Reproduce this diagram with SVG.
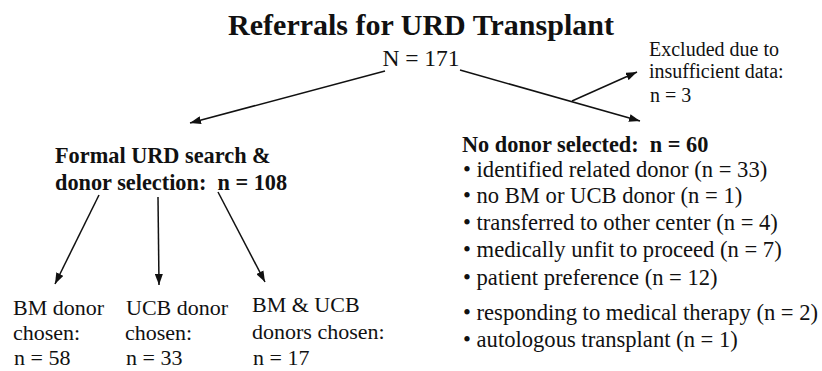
<svg xmlns="http://www.w3.org/2000/svg" width="822" height="371" viewBox="0 0 822 371">
<defs>
<style>
text{font-family:"Liberation Serif","Times New Roman",serif;fill:#111;white-space:pre}
.t{font-size:30px;font-weight:bold}
.b{font-size:22.3px;font-weight:bold}
.r{font-size:22px}
.l{font-size:22.6px}
.s{font-size:20px}
.c line{stroke:#111;stroke-width:1.5;marker-end:url(#ah)}
</style>
<marker id="ah" viewBox="0 0 11 8" refX="11" refY="4" markerWidth="11" markerHeight="8" markerUnits="userSpaceOnUse" orient="auto">
<path d="M0,0 L11,4 L0,8 Z" fill="#111"/>
</marker>
</defs>
<rect width="822" height="371" fill="#fff"/>
<g id="root">
<text class="t" x="421" y="35" text-anchor="middle">Referrals for URD Transplant</text>
<text class="r" x="421" y="66" text-anchor="middle" style="font-size:23.5px">N = 171</text>
</g>
<g id="excluded">
<text class="s" x="649" y="56">Excluded due to</text>
<text class="s" x="649" y="78">insufficient data:</text>
<text class="s" x="650" y="102">n = 3</text>
</g>
<g id="formal">
<text class="b" x="55" y="163">Formal URD search &amp;</text>
<text class="b" x="55" y="190">donor selection:  n = 108</text>
</g>
<g id="nodonor">
<text class="b" x="462" y="152">No donor selected:  n = 60</text>
<text class="l" x="463" y="177">• identified related donor (n = 33)</text>
<text class="l" x="463" y="203">• no BM or UCB donor (n = 1)</text>
<text class="l" x="463" y="230">• transferred to other center (n = 4)</text>
<text class="l" x="463" y="257">• medically unfit to proceed (n = 7)</text>
<text class="l" x="463" y="285">• patient preference (n = 12)</text>
<text class="l" x="463" y="320">• responding to medical therapy (n = 2)</text>
<text class="l" x="463" y="347">• autologous transplant (n = 1)</text>
</g>
<g id="bm">
<text class="r" x="13" y="315">BM donor</text>
<text class="r" x="13" y="340">chosen:</text>
<text class="r" x="14" y="365">n = 58</text>
</g>
<g id="ucb">
<text class="r" x="126" y="315">UCB donor</text>
<text class="r" x="125" y="340">chosen:</text>
<text class="r" x="126" y="365">n = 33</text>
</g>
<g id="bmucb">
<text class="r" x="252" y="312">BM &amp; UCB</text>
<text class="r" x="252" y="339">donors chosen:</text>
<text class="r" x="253" y="365">n = 17</text>
</g>
<g id="connectors" class="c">
<line x1="385" y1="71" x2="190" y2="123"/>
<line x1="460" y1="70" x2="640" y2="121"/>
<line x1="572" y1="101" x2="637" y2="72"/>
<line x1="99" y1="195" x2="55" y2="284"/>
<line x1="158" y1="197" x2="159" y2="285"/>
<line x1="218" y1="192" x2="265" y2="282"/>
</g>
</svg>
